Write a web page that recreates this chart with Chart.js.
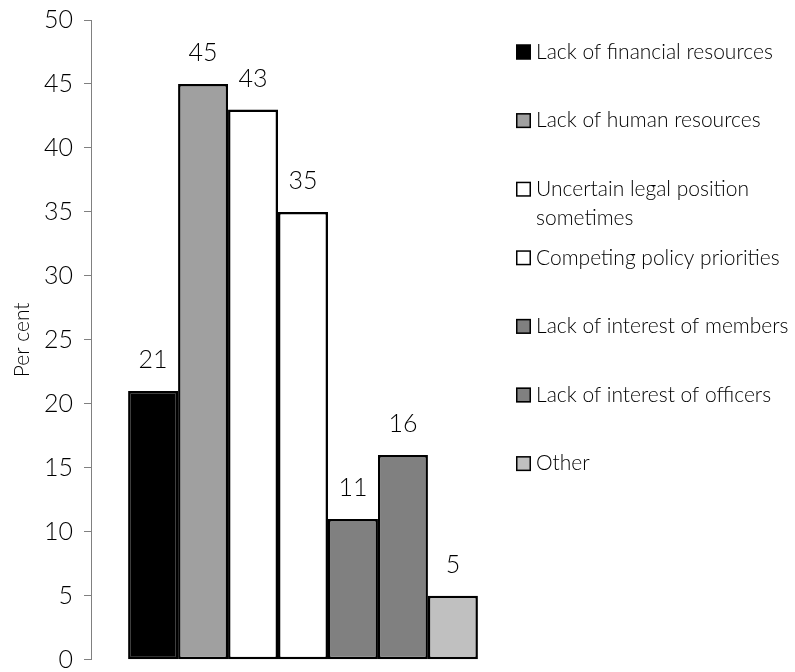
<!DOCTYPE html>
<html>
<head>
<meta charset="utf-8">
<title>Barriers</title>
<script src="https://cdn.jsdelivr.net/npm/chart.js@4/dist/chart.umd.min.js"></script>
<style>
  html, body { margin: 0; padding: 0; background: #fff; }
  #wrap { width: 795px; height: 672px; }
</style>
</head>
<body>
<div id="wrap"><canvas id="chart" width="795" height="672"></canvas></div>
<script>
const FONT = 'Lato, "Open Sans", sans-serif';

// one bar per reason, all in a single group
const reasons = [
  'Lack of financial resources',
  'Lack of human resources',
  ['Uncertain legal position', 'sometimes'],
  'Competing policy priorities',
  'Lack of interest of members',
  'Lack of interest of officers',
  'Other'
];
const percents = [21, 45, 43, 35, 11, 16, 5];
const fills = ['#000000', '#a0a0a0', '#ffffff', '#ffffff', '#808080', '#808080', '#c0c0c0'];
const yTicks = [0, 5, 10, 15, 20, 25, 30, 35, 40, 45, 50];

const datasets = reasons.map((r, i) => ({
  label: Array.isArray(r) ? r.join(' ') : r,
  legendLines: Array.isArray(r) ? r : [r],
  data: [percents[i]],
  backgroundColor: fills[i],
  borderColor: '#000000',
  borderWidth: 2.5,
  borderSkipped: false,
  categoryPercentage: 0.825,
  barPercentage: 1.0
}));

// value written above each bar
const valueLabels = {
  id: 'valueLabels',
  afterDatasetsDraw(chart) {
    const ctx = chart.ctx;
    ctx.save();
    ctx.font = '300 25px ' + FONT;
    ctx.fillStyle = '#000';
    ctx.textAlign = 'center';
    ctx.textBaseline = 'alphabetic';
    chart.data.datasets.forEach((ds, i) => {
      const bar = chart.getDatasetMeta(i).data[0];
      ctx.fillText(String(ds.data[0]), bar.x, bar.y - 23);
    });
    ctx.restore();
  }
};

// legend column on the right
const sideLegend = {
  id: 'sideLegend',
  afterDraw(chart) {
    const ctx = chart.ctx;
    const x0 = 516;
    const step = 68.6;
    ctx.save();
    ctx.font = '300 21px ' + FONT;
    ctx.textBaseline = 'middle';
    ctx.textAlign = 'left';
    chart.data.datasets.forEach((ds, i) => {
      const y = 52 + i * step;
      ctx.fillStyle = ds.backgroundColor;
      ctx.fillRect(x0, y - 7.5, 15, 15);
      ctx.strokeStyle = '#000';
      ctx.lineWidth = 1.5;
      ctx.strokeRect(x0 + 0.75, y - 6.75, 13.5, 13.5);
      ctx.fillStyle = '#000';
      ds.legendLines.forEach((line, j) => {
        ctx.fillText(line, x0 + 20, y + j * 29);
      });
    });
    ctx.restore();
  }
};

new Chart(document.getElementById('chart'), {
  type: 'bar',
  data: { labels: [''], datasets },
  options: {
    responsive: false,
    animation: false,
    layout: { padding: { top: 20, right: 280, bottom: 2, left: 2 } },
    plugins: {
      legend: { display: false },
      tooltip: { enabled: false }
    },
    scales: {
      x: {
        display: false
      },
      y: {
        min: 0,
        max: 50,
        afterBuildTicks(axis) { axis.ticks = yTicks.map(v => ({ value: v })); },
        // fixed axis width so the plot starts at x = 91
        afterFit(axis) { axis.width = 89; },
        grid: {
          drawOnChartArea: false,
          drawTicks: true,
          tickLength: 7,
          color: '#808080'
        },
        border: { display: true, color: '#808080', width: 1 },
        ticks: {
          color: '#000',
          padding: 11,
          font: { family: FONT, size: 25, weight: '300', lineHeight: 0.1 }
        },
        title: {
          display: true,
          text: 'Per cent',
          color: '#000',
          padding: { top: 8, bottom: 2 },
          font: { family: FONT, size: 21, weight: '300' }
        }
      }
    }
  },
  plugins: [valueLabels, sideLegend]
});
</script>
</body>
</html>
